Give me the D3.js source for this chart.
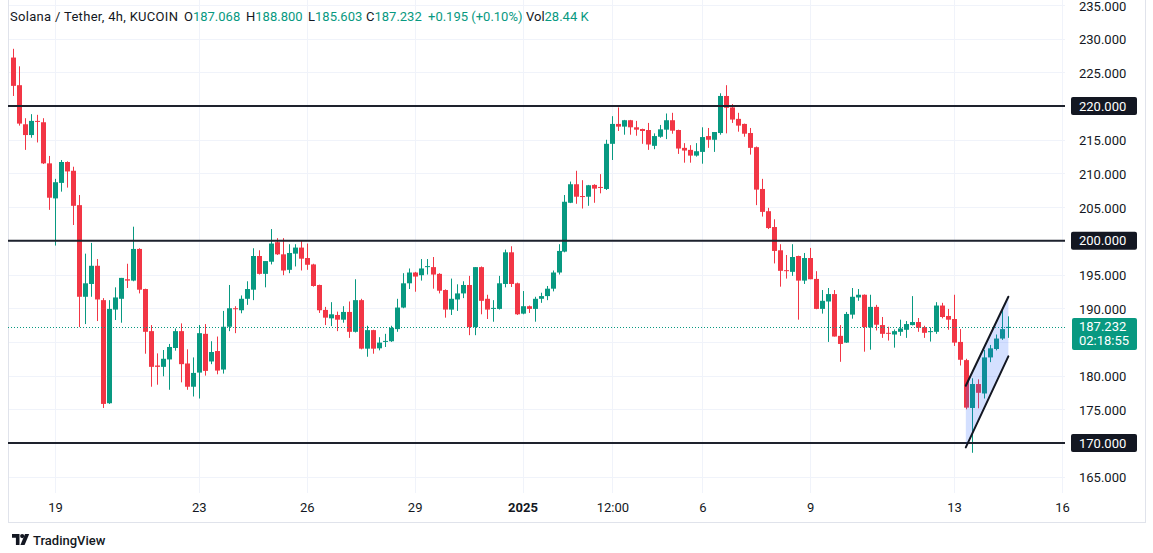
<!DOCTYPE html>
<html><head><meta charset="utf-8">
<script src="https://cdn.jsdelivr.net/npm/d3@7"></script>
<style>
html,body{margin:0;padding:0;background:#fff;}
svg{display:block;font-family:Roboto,"Liberation Sans",sans-serif;}
</style></head><body><svg id="c" width="1153" height="553"></svg>
<script>
// ---------- data ----------
const startTime = Date.UTC(2024, 11, 17, 20); // first 4h candle
const candleHours = 4;
const opens = [
227.2,223.1,217.3,215.7,217.8,217.6,211.5,206.3,208.6,211.7,
210.4,205.3,191.7,193.6,196.3,191.2,175.9,189.8,191.4,194.3,
194.1,198.8,192.85,186.6,181.5,181.3,182.4,184.1,186.6,181.8,
178.35,180.45,186.2,182.1,183.65,180.9,187.25,190.0,189.7,191.4,
192.75,197.75,195.1,196.9,199.8,198.0,195.7,198.1,199.0,197.45,
196.5,193.45,189.75,188.5,189.0,188.3,189.45,186.5,191.2,184.0,
186.75,184.05,185.05,185.1,186.9,190.1,193.7,195.3,194.9,196.15,
196.1,195.1,192.7,189.8,191.3,192.2,193.45,187.2,196.1,191.4,
189.95,189.9,193.6,198.3,193.7,189.2,190.3,189.9,191.4,191.8,
192.9,195.3,198.4,205.65,208.4,206.65,206.55,208.3,208.0,207.7,
214.4,217.35,216.95,217.9,216.85,216.6,216.45,214.1,215.45,216.5,
217.9,216.45,213.8,213.5,212.65,213.2,215.55,215.0,216.0,221.5,
219.8,218.1,217.35,216.0,213.9,207.7,204.4,202.05,198.6,195.65,
195.4,197.75,194.1,197.45,194.35,189.9,191.0,192.1,185.9,184.9,
189.05,191.6,192.0,187.15,190.2,187.5,186.35,186.1,186.5,186.8,
187.5,187.95,187.2,186.5,186.5,190.4,188.85,188.4,185.0,182.3,
175.2,178.75,177.35,182.7,183.95,185.5,187.068];
const highs = [
228.5,225.9,218.2,218.8,218.7,218.2,212.6,209.2,212.0,211.8,
211.0,206.8,198.1,199.7,197.3,191.5,191.2,193.1,194.5,196.6,
202.1,198.9,192.9,187.5,183.3,183.8,184.7,187.0,187.75,183.9,
182.7,187.5,187.65,185.1,185.8,189.6,193.45,190.3,191.9,194.0,
198.9,198.6,197.0,201.75,200.4,200.4,199.5,199.5,200.1,199.6,
196.6,193.5,190.2,190.9,189.5,190.3,191.0,194.3,191.4,187.4,
186.8,185.7,186.2,187.4,191.4,195.2,195.9,195.4,197.3,197.3,
197.6,195.2,192.8,194.4,193.55,194.0,194.8,196.1,196.2,192.0,
191.2,194.8,198.7,199.2,193.8,192.55,190.4,191.7,192.3,193.3,
195.6,199.5,206.8,208.8,210.4,209.0,208.3,208.4,209.9,215.0,
218.5,219.8,217.95,217.95,217.8,216.65,217.5,215.95,217.2,218.9,
219.0,216.5,214.5,214.2,214.5,216.85,216.75,216.15,221.9,223.1,
220.3,219.0,217.4,216.75,214.0,209.2,204.9,203.2,199.5,197.9,
199.5,197.8,198.2,198.95,195.5,192.7,193.0,192.7,187.5,189.45,
193.0,192.85,192.05,192.0,190.5,188.7,187.25,186.85,188.3,188.1,
191.8,188.55,187.4,187.15,190.9,190.8,189.9,192.0,186.9,182.5,
179.6,179.45,183.8,184.55,186.1,190.0,188.8];
const lows = [
221.5,217.1,213.5,215.3,214.6,211.4,204.6,199.3,207.3,207.9,
202.35,187.2,187.65,191.7,188.1,175.2,175.8,188.25,187.85,193.0,
194.0,192.2,183.25,178.35,178.65,179.9,177.9,183.7,179.0,177.9,
176.9,176.6,180.0,181.7,180.2,180.3,186.6,186.3,189.25,190.5,
191.2,195.0,193.1,196.5,197.9,194.9,195.2,196.2,195.6,195.7,
193.2,189.3,187.5,187.35,186.6,187.85,185.6,186.4,183.9,182.8,
183.25,183.75,184.25,185.0,186.5,190.0,192.85,192.45,194.1,195.0,
192.9,192.2,188.6,189.0,189.6,191.5,186.0,186.0,189.1,188.4,
188.0,189.8,193.1,193.15,189.0,189.1,189.3,188.0,190.8,191.2,
192.5,195.0,198.3,205.6,205.5,204.8,205.2,205.65,207.05,207.55,
212.0,216.3,215.75,215.75,215.6,214.4,213.5,213.6,215.3,215.1,
215.9,212.9,211.6,211.6,212.5,211.45,213.8,213.2,215.75,215.95,
217.5,216.2,215.45,212.8,205.3,203.6,201.75,196.65,193.2,194.4,
194.8,188.3,193.6,194.3,189.85,189.2,185.0,185.8,182.05,184.85,
188.45,191.1,183.55,183.85,186.7,185.6,185.2,184.15,185.9,185.6,
187.45,186.5,185.6,185.05,186.2,188.5,186.8,184.4,181.5,175.0,
168.55,175.15,176.6,182.0,183.75,185.3,185.603];
const closes = [
223.0,217.4,215.7,217.8,217.7,211.5,206.4,208.7,211.7,210.3,
205.2,191.7,193.7,196.3,191.3,175.8,189.9,191.6,194.5,194.1,
198.8,192.75,186.5,181.3,181.3,182.5,184.25,186.6,181.7,178.35,
180.4,186.3,180.7,183.5,180.75,187.25,190.0,189.9,191.4,192.85,
197.75,195.1,197.0,199.6,198.0,195.6,198.2,199.0,197.35,196.45,
193.3,189.7,188.6,189.1,188.3,189.45,186.5,191.2,184.0,186.75,
184.0,184.9,185.15,187.1,190.1,193.7,195.3,194.7,195.9,196.25,
195.0,192.6,189.8,191.4,192.2,193.45,187.2,196.1,191.1,189.8,
190.05,193.7,198.3,193.6,189.1,190.3,189.9,191.4,191.8,192.9,
195.3,198.5,205.8,208.4,206.55,206.5,208.25,207.75,207.9,214.4,
217.35,216.95,217.9,216.85,216.5,216.3,214.3,215.55,216.55,217.9,
216.35,213.7,213.4,212.65,213.3,215.4,215.0,216.15,221.5,219.75,
218.0,217.1,215.9,213.8,207.6,204.3,201.9,198.5,195.55,195.5,
197.6,194.1,197.45,194.3,189.9,191.1,192.1,185.8,184.7,189.15,
191.7,192.0,187.2,190.2,187.55,186.2,186.25,186.6,187.0,187.65,
187.95,187.1,186.35,186.6,190.4,188.7,188.3,184.9,182.35,175.25,
178.75,177.45,182.7,184.05,185.5,186.9,187.232];

const priceTicks = [165,170,175,180,185,190,195,200,205,210,215,220,225,230,235];
const timeTickDates = ["2024-12-19T00:00Z","2024-12-23T00:00Z","2024-12-26T00:00Z","2024-12-29T00:00Z","2025-01-01T00:00Z","2025-01-03T12:00Z","2025-01-06T00:00Z","2025-01-09T00:00Z","2025-01-13T00:00Z","2025-01-16T00:00Z"];
const timeTickLabels = ["19","23","26","29","2025","12:00","6","9","13","16"];
const levels = [220, 200, 170];
const lastPrice = 187.232;
const countdown = "02:18:55";
// channel drawing: [candle index, price]
const channelTop = [[158.95, 178.5], [166.05, 191.7]];
const channelBottom = [[158.95, 169.35], [166.05, 182.85]];
const headerTitle = "Solana / Tether, 4h, KUCOIN";
const headerFields = [["O","187.068"],["H","188.800"],["L","185.603"],["C","187.232"],["","+0.195 (+0.10%)"],["Vol","28.44 K"]];

// ---------- chart ----------
const GREEN = "#089981", RED = "#f23645", TXT = "#131722", GRID = "#f0f3fa";
const plotL = 8, plotR = 1065, plotT = 0, plotB = 493;
const svg = d3.select("#c");
const idxTime = i => new Date(startTime + i * candleHours * 3600e3);
const x = d3.scaleUtc().domain([new Date("2024-12-19T00:00Z"), new Date("2025-01-16T00:00Z")]).range([55, 1062]);
const y = d3.scaleLinear().domain([170, 235]).range([443, 5]);
const tickDates = timeTickDates.map(d => new Date(d));

// grid
const g = svg.append("g");
g.selectAll("line.h").data(priceTicks).join("line")
  .attr("x1", plotL).attr("x2", plotR)
  .attr("y1", d => Math.round(y(d)) + 0.5).attr("y2", d => Math.round(y(d)) + 0.5)
  .attr("stroke", GRID);
g.selectAll("line.v").data(tickDates).join("line")
  .attr("x1", d => Math.round(x(d)) + 0.5).attr("x2", d => Math.round(x(d)) + 0.5)
  .attr("y1", plotT).attr("y2", plotB)
  .attr("stroke", GRID);

// frame
svg.append("rect").attr("x", 8.5).attr("y", -1).attr("width", 1137).attr("height", 523.5)
  .attr("fill", "none").attr("stroke", "#e0e3eb");

// candles
const data = opens.map((o, i) => ({t: idxTime(i), o, h: highs[i], l: lows[i], c: closes[i]}));
const cg = svg.append("g");
const cx = d => Math.round(x(d.t));
cg.selectAll("line").data(data).join("line")
  .attr("x1", d => cx(d) + 0.5).attr("x2", d => cx(d) + 0.5)
  .attr("y1", d => y(d.h)).attr("y2", d => y(d.l))
  .attr("stroke", d => d.c >= d.o ? GREEN : RED).attr("stroke-width", 1);
cg.selectAll("rect").data(data).join("rect")
  .attr("x", d => cx(d) - 2).attr("width", 5)
  .attr("y", d => y(Math.max(d.o, d.c)))
  .attr("height", d => Math.max(1, Math.abs(y(d.o) - y(d.c))))
  .attr("fill", d => d.c >= d.o ? GREEN : RED);

// level lines
svg.append("g").selectAll("line").data(levels).join("line")
  .attr("x1", plotL).attr("x2", plotR)
  .attr("y1", d => y(d)).attr("y2", d => y(d))
  .attr("stroke", "#1e222d").attr("stroke-width", 2);

// last price dotted line
svg.append("line").attr("x1", plotL).attr("x2", plotR)
  .attr("y1", Math.round(y(lastPrice)) + 0.5).attr("y2", Math.round(y(lastPrice)) + 0.5)
  .attr("stroke", GREEN).attr("stroke-dasharray", "1,2");

// channel
const cpt = p => [x(idxTime(p[0])), y(p[1])];
const poly = [cpt(channelTop[0]), cpt(channelTop[1]), cpt(channelBottom[1]), cpt(channelBottom[0])];
svg.append("polygon").attr("points", poly.map(p => p.join(",")).join(" "))
  .attr("fill", "rgba(41,98,255,0.2)");
[channelTop, channelBottom].forEach(ln => {
  svg.append("line").attr("x1", cpt(ln[0])[0]).attr("y1", cpt(ln[0])[1])
    .attr("x2", cpt(ln[1])[0]).attr("y2", cpt(ln[1])[1])
    .attr("stroke", "#131722").attr("stroke-width", 2).attr("stroke-linecap", "round");
});

// price axis (labels hidden behind the last-price box are not drawn, as on the reference)
const lpTop = y(lastPrice) - 10, lpBot = y(lastPrice) + 24;
const visibleTicks = priceTicks.filter(p => y(p) < lpTop - 5 || y(p) > lpBot + 5);
const ya = svg.append("g").attr("transform", "translate(1079,1)")
  .call(d3.axisRight(y).tickValues(visibleTicks).tickFormat(d => d.toFixed(3)).tickSize(0).tickPadding(0));
ya.select(".domain").remove();
ya.selectAll("text").attr("font-size", 13).attr("fill", TXT).attr("font-family", "Roboto,'Liberation Sans',sans-serif");

// level labels
const lv = svg.append("g").selectAll("g").data(levels).join("g")
  .attr("transform", d => `translate(0,${y(d)})`);
lv.append("rect").attr("x", 1071).attr("y", -9).attr("width", 66).attr("height", 18).attr("rx", 2).attr("fill", "#131722");
lv.append("text").attr("x", 1079).attr("dy", "0.35em").attr("font-size", 13).attr("fill", "#fff").text(d => d.toFixed(3));

// last price label
const lp = svg.append("g").attr("transform", `translate(0,${y(lastPrice)})`);
lp.append("rect").attr("x", 1072).attr("y", -9).attr("width", 65).attr("height", 32).attr("rx", 2).attr("fill", GREEN);
lp.append("text").attr("x", 1079).attr("dy", "0.35em").attr("font-size", 13).attr("fill", "#fff").text(lastPrice.toFixed(3));
lp.append("text").attr("x", 1079).attr("y", 14).attr("dy", "0.35em").attr("font-size", 13).attr("fill", "#fff").text(countdown);

// time axis
const xa = svg.append("g").attr("transform", "translate(0,500)")
  .call(d3.axisBottom(x).tickValues(tickDates).tickFormat((d, i) => timeTickLabels[i]).tickSize(0).tickPadding(3));
xa.select(".domain").remove();
xa.selectAll("text").attr("font-size", 13).attr("fill", TXT).attr("font-family", "Roboto,'Liberation Sans',sans-serif")
  .attr("font-weight", (d, i) => timeTickLabels[i] === "2025" ? 700 : 400);

// header
const hg = svg.append("g").attr("font-size", 13);
hg.append("text").attr("x", 10).attr("y", 21).attr("fill", TXT).attr("textLength", 168).text(headerTitle);
const fieldX = [184, 246, 308, 366, 428, 526];
headerFields.forEach(([k, v], i) => {
  const t = hg.append("text").attr("x", fieldX[i]).attr("y", 21).attr("fill", TXT);
  if (k) t.append("tspan").text(k);
  t.append("tspan").attr("fill", GREEN).text(v);
});

// TradingView logo
const logo = svg.append("g").attr("fill", TXT);
logo.append("path").attr("d", "M12 534 h7.5 v11 h-3.6 v-7.3 h-3.9 z");
logo.append("circle").attr("cx", 22.2).attr("cy", 536.1).attr("r", 2.1);
logo.append("path").attr("d", "M25 534 h4.2 l-4.6 11 h-4.2 z");
svg.append("text").attr("x", 33).attr("y", 545).attr("font-size", 13).attr("font-weight", 500).attr("fill", TXT).text("TradingView");
</script></body></html>
